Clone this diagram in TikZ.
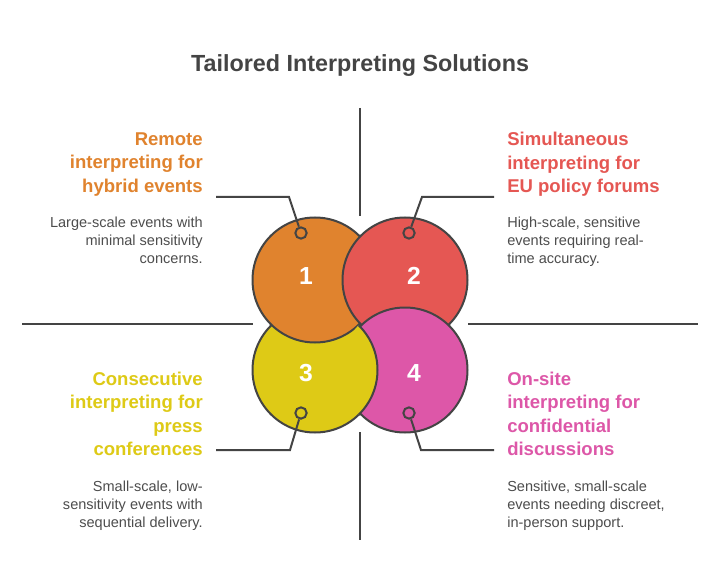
\documentclass[tikz,border=0pt]{standalone}
\usepackage{fontspec}
\setmainfont{Liberation Sans}
\definecolor{cOrange}{HTML}{E0832E}
\definecolor{cRed}{HTML}{E55753}
\definecolor{cYellow}{HTML}{DECA16}
\definecolor{cPink}{HTML}{DD57A8}
\definecolor{cLine}{HTML}{444444}
\definecolor{cText}{HTML}{4D4D4D}
\begin{document}
\begin{tikzpicture}[x=0.75pt,y=-0.75pt,
  bubble/.style={draw=cLine,line width=1.5pt},
  rule/.style={draw=cLine,line width=1.5pt},
  dot/.style={circle,draw=cLine,line width=1.5pt,minimum size=8.5pt,inner sep=0pt},
  num/.style={text=white,font=\fontsize{18.5}{22}\selectfont\bfseries},
  head/.style={inner sep=0pt,font=\fontsize{13.9}{17.6}\selectfont\bfseries},
  body/.style={inner sep=0pt,text=cText,font=\fontsize{10.9}{13.5}\selectfont}]
\useasboundingbox (0,0) rectangle (721,588);
\fill[white] (0,0) rectangle (721,588);
\node[text=cLine,font=\fontsize{17.5}{21}\selectfont\bfseries,anchor=base] (title) at (360,72) {Tailored Interpreting Solutions};
% separator lines
\coordinate (vt1) at (360,108); \coordinate (vt2) at (360,216);
\coordinate (vb1) at (360,432); \coordinate (vb2) at (360,540);
\coordinate (hl1) at (22,324); \coordinate (hl2) at (253,324);
\coordinate (hr1) at (468,324); \coordinate (hr2) at (698,324);
\draw[rule] (vt1) -- (vt2);
\draw[rule] (vb1) -- (vb2);
\draw[rule] (hl1) -- (hl2);
\draw[rule] (hr1) -- (hr2);
% circles: order 3,1,2,4 then 3 over 4
\path[fill=cYellow,bubble] (315,370) circle[radius=62.5];
\path[fill=cOrange,bubble] (315,280) circle[radius=62.5];
\path[fill=cRed,bubble] (405,280) circle[radius=62.5];
\path[fill=cPink,bubble] (405,370) circle[radius=62.5];
\begin{scope}
\clip (405,370) circle[radius=64.5];
\path[fill=cYellow,bubble] (315,370) circle[radius=62.5];
\end{scope}
\node[num] (n1) at (306,276) {1};
\node[num] (n2) at (414,276) {2};
\node[num] (n3) at (306,373) {3};
\node[num] (n4) at (414,373) {4};
% leaders
\node[dot] (d1) at (301,233) {};
\node[dot] (d2) at (409,233) {};
\node[dot] (d3) at (301,413) {};
\node[dot] (d4) at (409,413) {};
\coordinate (k1) at (289,197); \coordinate (e1) at (216,197);
\coordinate (k2) at (422,197); \coordinate (e2) at (494,197);
\coordinate (k3) at (290,450); \coordinate (e3) at (216,450);
\coordinate (k4) at (421,450); \coordinate (e4) at (494,450);
\draw[rule] (d1) -- (k1) -- (e1);
\draw[rule] (d2) -- (k2) -- (e2);
\draw[rule] (d3) -- (k3) -- (e3);
\draw[rule] (d4) -- (k4) -- (e4);
% texts (north anchors: first baseline minus ascent)
\node[head,text=cOrange,align=right,anchor=north east] (h1) at (203,132.2) {Remote\\interpreting for\\hybrid events};
\node[body,align=right,anchor=north east] (b1) at (203,216.6) {Large-scale events with\\minimal sensitivity\\concerns.};
\node[head,text=cRed,align=left,anchor=north west] (h2) at (507,132.2) {Simultaneous\\interpreting for\\EU policy forums};
\node[body,align=left,anchor=north west] (b2) at (507,216.6) {High-scale, sensitive\\events requiring real-\\time accuracy.};
\node[head,text=cYellow,align=right,anchor=north east] (h3) at (203,371.7) {Consecutive\\interpreting for\\press\\conferences};
\node[body,align=right,anchor=north east] (b3) at (203,481.1) {Small-scale, low-\\sensitivity events with\\sequential delivery.};
\node[head,text=cPink,align=left,anchor=north west] (h4) at (507,371.7) {On-site\\interpreting for\\confidential\\discussions};
\node[body,align=left,anchor=north west] (b4) at (507,480.6) {Sensitive, small-scale\\events needing discreet,\\in-person support.};
\end{tikzpicture}
\end{document}
